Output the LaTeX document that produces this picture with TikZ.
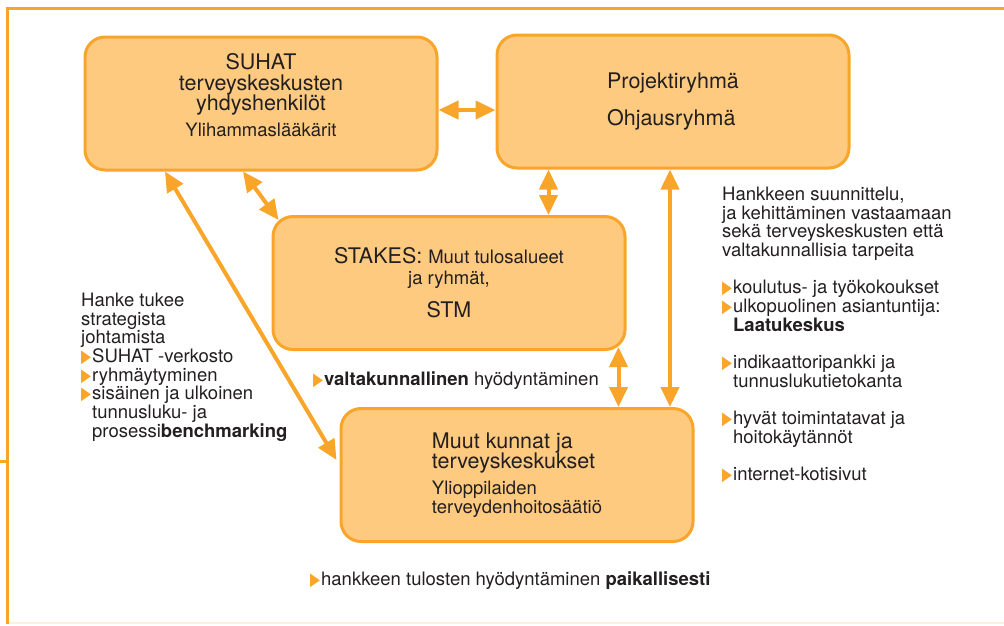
\documentclass[tikz,border=0pt]{standalone}
\usepackage{fontspec}
\setmainfont{TeX Gyre Heros}
\newfontfamily\symfont{DejaVu Sans}
\usetikzlibrary{arrows.meta}
\definecolor{boxline}{HTML}{F8A52A}
\definecolor{boxfill}{HTML}{FDCA80}
\definecolor{inktext}{HTML}{231F20}
\definecolor{paleline}{HTML}{FDF1DE}
\newcommand{\bigtxt}{\fontsize{21.5}{20.5}\selectfont}
\newcommand{\smalltxt}{\fontsize{18.5}{18.7}\selectfont}
\newcommand{\pointer}{{\color{boxline}\fontsize{18}{18}\symfont\scalebox{0.72}[1]{▶}}\hspace{1pt}}
\tikzset{
  box/.style={draw=boxline, fill=boxfill, line width=3pt, rounded corners=20pt,
    minimum width=352pt, minimum height=133pt, inner sep=0pt, text=inktext, font=\bigtxt},
  link/.style={<->, draw=boxline, line width=4pt},
  note/.style={inner sep=0pt, align=left, text=inktext, font=\smalltxt}
}
\begin{document}
\begin{tikzpicture}[x=1pt,y=-1pt,>={Triangle[length=20pt,width=18pt]}]
\useasboundingbox (0,0) rectangle (1004,625);
% frame
\draw[boxline, line width=2.5pt] (1004,8.5)--(7.5,8.5)--(7.5,624);
\draw[boxline, line width=2.5pt] (0,461.5)--(7.5,461.5);
\draw[paleline, line width=2pt] (9,623)--(1004,623);

\node[box, align=center, text depth=17pt] (suhat) at (261,103.5)
  {SUHAT\\terveyskeskusten\\yhdyshenkilöt\\[5pt]{\smalltxt Ylihammaslääkärit}};
\node[box, align=left] (proj) at (673,101.5) {Projektiryhmä\\[16pt]Ohjausryhmä};
\node[box, align=center] (stakes) at (449,283)
  {STAKES: {\smalltxt Muut tulosalueet}\\{\smalltxt ja ryhmät,}\\[13pt]STM};
\node[box, align=left] (muut) at (517,475)
  {Muut kunnat ja\\terveyskeskukset\\[5pt]{\smalltxt Ylioppilaiden}\\[-1.5pt]{\smalltxt terveydenhoitosäätiö}};

% connectors
\coordinate (sp) at ([yshift=-6.5pt]suhat.east);
\draw[link] (sp)--(sp -| proj.west);
\draw[link] ([xshift=-18pt]suhat.south)--([shift={(7pt,-5pt)}]stakes.north west);
\draw[link] ([xshift=-96pt]suhat.south)--([shift={(-3pt,15pt)}]muut.west);
\coordinate (ps) at ([xshift=53pt]proj.south west);
\draw[link] (ps)--(ps |- stakes.north);
\coordinate (pm) at ([xshift=-3pt]proj.south);
\draw[link] (pm)--(pm |- muut.north);
\coordinate (sm) at ([shift={(-8pt,4pt)}]stakes.south east);
\draw[link] (sm)--(sm |- muut.north);

% notes
\node[note, anchor=north west] (strategy) at (81,292.7)
  {Hanke tukee\\strategista\\johtamista\\\pointer SUHAT -verkosto\\\pointer ryhmäytyminen\\
   \pointer sisäinen ja ulkoinen\\\phantom{\pointer}tunnusluku- ja\\
   \phantom{\pointer}prosessi\textbf{benchmarking}};
\node[note, anchor=north west] (planning) at (722,186.7)
  {Hankkeen suunnittelu,\\ja kehittäminen vastaamaan\\sekä terveyskeskusten että\\valtakunnallisia tarpeita\\[18.6pt]
   \pointer koulutus- ja työkokoukset\\\pointer ulkopuolinen asiantuntija:\\\phantom{\pointer}\textbf{Laatukeskus}\\[18.6pt]
   \pointer indikaattoripankki ja\\\phantom{\pointer}tunnuslukutietokanta\\[18.6pt]
   \pointer hyvät toimintatavat ja\\\phantom{\pointer}hoitokäytännöt\\[18.6pt]
   \pointer internet-kotisivut};
\node[note, anchor=base west] (national) at (313,385)
  {\pointer\textbf{valtakunnallinen} hyödyntäminen};
\node[note, anchor=base west] (local) at (310,585)
  {\pointer hankkeen tulosten hyödyntäminen \textbf{paikallisesti}};
\end{tikzpicture}
\end{document}
